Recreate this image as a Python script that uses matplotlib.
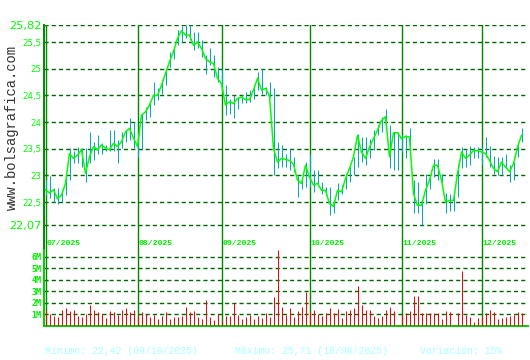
import matplotlib
matplotlib.use("Agg")
import numpy as np
import matplotlib.pyplot as plt
import matplotlib.transforms as mtransforms

# cierre diario (jul - dic 2025)
close = [22.73, 22.67, 22.73, 22.56, 22.63, 22.85, 23.41, 23.32, 23.38, 23.48,
         23.04, 23.35, 23.54, 23.48, 23.57, 23.51, 23.48, 23.60, 23.54, 23.63,
         23.82, 23.88, 23.70, 23.54, 24.13, 24.19, 24.32, 24.50, 24.50, 24.69,
         24.91, 25.13, 25.32, 25.57, 25.71, 25.63, 25.63, 25.44, 25.50, 25.38,
         25.19, 25.13, 25.10, 24.82, 24.72, 24.32, 24.38, 24.35, 24.44, 24.47,
         24.42, 24.42, 24.60, 24.82, 24.60, 24.63, 24.50, 23.50, 23.25, 23.32,
         23.30, 23.28, 23.21, 22.91, 22.85, 23.19, 22.97, 22.82, 22.85, 22.72,
         22.72, 22.47, 22.42, 22.72, 22.69, 22.94, 23.13, 23.35, 23.75, 23.44,
         23.32, 23.53, 23.69, 23.85, 24.03, 24.10, 23.35, 23.80, 23.80, 23.69,
         23.73, 23.72, 22.66, 22.44, 22.44, 22.72, 22.91, 23.19, 23.19, 22.91,
         22.50, 22.53, 22.53, 23.03, 23.44, 23.32, 23.38, 23.47, 23.46, 23.44,
         23.41, 23.28, 23.13, 23.07, 23.25, 23.16, 23.07, 23.22, 23.53, 23.75]
high = [22.92, 22.98, 22.76, 22.76, 22.73, 22.98, 23.51, 23.45, 23.54, 23.51,
        23.51, 23.82, 23.63, 23.76, 23.60, 23.57, 23.85, 23.85, 23.66, 23.82,
        23.85, 24.07, 24.01, 23.76, 24.16, 24.28, 24.38, 24.75, 24.63, 24.78,
        25.00, 25.32, 25.38, 25.72, 25.80, 25.82, 25.82, 25.69, 25.69, 25.53,
        25.25, 25.38, 25.25, 25.03, 25.00, 24.69, 24.44, 24.50, 24.47, 24.50,
        24.57, 24.60, 24.69, 24.94, 25.00, 24.66, 24.75, 24.63, 23.63, 23.57,
        23.41, 23.50, 23.35, 23.00, 22.97, 23.25, 23.41, 23.10, 23.10, 22.88,
        22.78, 22.78, 22.53, 22.85, 22.82, 23.03, 23.16, 23.35, 23.78, 23.72,
        23.72, 23.69, 23.85, 23.94, 24.10, 24.25, 23.94, 23.82, 23.82, 23.75,
        23.75, 23.88, 22.91, 22.88, 22.53, 23.03, 23.03, 23.30, 23.30, 23.03,
        22.67, 22.66, 22.66, 23.22, 23.53, 23.50, 23.55, 23.53, 23.53, 23.53,
        23.72, 23.55, 23.36, 23.35, 23.35, 23.41, 23.19, 23.25, 23.57, 23.88]
low = [22.63, 22.57, 22.51, 22.47, 22.51, 22.63, 22.91, 23.23, 23.23, 23.16,
       22.88, 23.23, 23.29, 23.41, 23.41, 23.45, 23.45, 23.45, 23.23, 23.51,
       23.63, 23.66, 23.51, 23.35, 23.48, 24.03, 24.10, 24.32, 24.41, 24.53,
       24.69, 25.03, 25.19, 25.44, 25.50, 25.57, 25.53, 25.35, 25.38, 25.22,
       24.91, 25.07, 24.85, 24.75, 24.57, 24.13, 24.16, 24.07, 24.25, 24.35,
       24.35, 24.38, 24.44, 24.60, 24.53, 24.50, 24.47, 23.00, 23.13, 23.16,
       23.16, 23.10, 23.07, 22.60, 22.75, 22.78, 22.78, 22.69, 22.82, 22.66,
       22.63, 22.25, 22.30, 22.53, 22.66, 22.75, 22.88, 23.00, 23.16, 23.25,
       23.19, 23.32, 23.47, 23.75, 23.82, 23.85, 23.13, 23.10, 23.10, 23.44,
       23.32, 23.50, 22.30, 22.30, 22.07, 22.47, 22.75, 22.97, 22.91, 22.88,
       22.30, 22.33, 22.33, 22.60, 23.13, 23.16, 23.19, 23.32, 23.32, 23.19,
       23.35, 23.16, 23.03, 23.00, 23.00, 23.13, 22.88, 22.91, 23.35, 23.63]
# volumen en millones
volume = [1.33, 1.04, 0.81, 0.70, 1.33, 1.50, 1.25, 1.33, 0.81, 0.70,
          1.04, 1.77, 1.33, 1.16, 1.04, 0.64, 1.25, 1.16, 0.90, 1.33,
          1.50, 1.16, 1.33, 0.81, 1.16, 0.99, 0.72, 0.90, 0.55, 0.81,
          1.16, 0.55, 0.72, 0.72, 0.81, 1.59, 1.16, 1.25, 0.72, 0.55,
          2.20, 0.72, 0.46, 0.99, 0.38, 0.81, 0.81, 1.94, 0.90, 0.55,
          0.72, 0.90, 0.55, 0.81, 0.64, 1.07, 0.72, 2.46, 6.55, 1.59,
          0.90, 1.50, 0.72, 1.25, 1.59, 2.90, 1.16, 1.33, 0.99, 0.81,
          1.07, 1.50, 1.07, 1.42, 0.64, 1.25, 1.33, 1.50, 3.42, 1.77,
          1.33, 1.33, 0.81, 0.64, 0.81, 1.33, 1.59, 1.25, 0.03, 0.90,
          1.07, 1.25, 2.55, 2.55, 1.07, 1.07, 1.07, 1.07, 1.07, 0.55,
          1.25, 1.16, 0.03, 1.07, 4.72, 0.90, 0.72, 0.29, 0.64, 0.81,
          1.07, 1.33, 1.16, 0.55, 0.64, 0.72, 0.81, 0.90, 1.16, 1.07]

month_start = [0, 23, 44, 66, 89, 109]
month_labels = ['07/2025', '08/2025', '09/2025', '10/2025', '11/2025', '12/2025']
price_ticks = [22.07, 22.5, 23, 23.5, 24, 24.5, 25, 25.5, 25.82]
price_labels = ['22,07', '22,5', '23', '23,5', '24', '24,5', '25', '25,5', '25,82']
vol_ticks = [1, 2, 3, 4, 5, 6]
vol_labels = ['1M', '2M', '3M', '4M', '5M', '6M']

x = np.arange(len(close))
grid_c = '#006600'
dash = (0, (3.0, 2.2))
off = 0.125  # centro de la columna de pixel
px = 0.72    # 1 pixel a 100 dpi

fig = plt.figure(figsize=(5.3, 3.6), dpi=100, facecolor='white')

# --- precio ---
ax = fig.add_axes([44/530, 1-250/360, 484/530, 225/360])
ax.set_xlim(-0.25, 120.75)
ax.set_ylim(21.601, 25.82)
ax.set_facecolor('white')
for s in ['top', 'right', 'bottom']:
    ax.spines[s].set_visible(False)
ax.spines['left'].set_color('#008800')
ax.spines['left'].set_linewidth(1.4)
ax.set_xticks([])
ax.set_yticks(price_ticks)
ax.set_yticklabels(price_labels)
ax.tick_params(axis='y', length=0, pad=2, labelcolor='#00ff00')
for i, t in enumerate(ax.get_yticklabels()):
    t.set_fontsize(8.2 if i in (0, len(price_ticks)-1) else 6.2)
for v in price_ticks:
    ax.axhline(v, color=grid_c, lw=1.0, ls=dash, zorder=1)
for m in month_start:
    ax.axvline(m + off, color='#008800', lw=1.0, zorder=2)
trans = mtransforms.blended_transform_factory(ax.transData, ax.transAxes)
for m, lab in zip(month_start, month_labels):
    ax.text(m + 0.3, 0.027, lab, transform=trans, ha='left', va='center',
            fontsize=5.9, family='Liberation Mono', fontweight='bold', color='#00ee00')
ax.vlines(x + off, low, high, color='#00aabb', lw=px, zorder=3)
ax.plot(x + off, close, color='#00ff00', lw=1.1, zorder=4)

# --- volumen ---
ax2 = fig.add_axes([44/530, 1-325.5/360, 484/530, 75.5/360])
ax2.set_xlim(-0.25, 120.75)
ax2.set_ylim(0, 6.58)
ax2.set_facecolor('none')
for s in ['top', 'right']:
    ax2.spines[s].set_visible(False)
ax2.spines['left'].set_color('#00cc00')
ax2.spines['bottom'].set_color('#00cc00')
ax2.spines['left'].set_linewidth(1.4)
ax2.spines['bottom'].set_linewidth(1.4)
ax2.set_xticks([])
ax2.set_yticks(vol_ticks)
ax2.set_yticklabels(vol_labels, fontsize=6, family='DejaVu Sans Mono', fontweight='bold')
ax2.tick_params(axis='y', length=0, pad=2, labelcolor='#00ee00')
for v in vol_ticks:
    ax2.axhline(v, color=grid_c, lw=1.0, ls=dash, zorder=1)
for m in month_start:
    ax2.axvline(m + off, color='#008800', lw=1.0, zorder=2)
ax2.vlines(x + off, 0, volume, color='#ff0000', lw=px, zorder=3)

# marca de agua y pie
fig.text(12/530, 1-127/360, 'www.bolsagrafica.com', rotation=90, ha='center', va='center',
         fontsize=9.9, family='Liberation Mono', color='#333333')
foot = dict(fontsize=7.1, family='Liberation Mono', color='#aaffff', va='center', ha='left')
fig.text(45/530, 1-351/360, 'Mínimo: 22,42 (09/10/2025)', **foot)
fig.text(235/530, 1-351/360, 'Máximo: 25,71 (18/08/2025)', **foot)
fig.text(420/530, 1-351/360, 'Variación: 15%', **foot)

fig.savefig('out.png', dpi=100, facecolor='white')
